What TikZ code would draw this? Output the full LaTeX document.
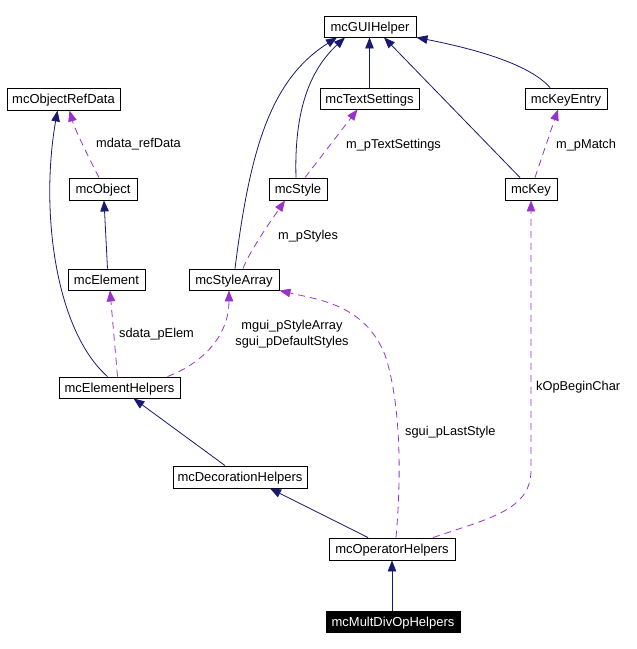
\documentclass[tikz,border=0pt]{standalone}
\usepackage{fontspec}
\setmainfont{Liberation Sans}
\usetikzlibrary{arrows.meta}
\definecolor{navy}{RGB}{25,25,112}
\definecolor{orchid}{RGB}{153,50,204}
\tikzset{
  cls/.style={draw=black, line width=0.9pt, fill=white, inner sep=0pt, text height=10.5pt, text depth=1pt, font=\fontsize{13}{15}\selectfont},
  inh/.style={draw=navy, line width=0.8pt, -{Triangle[length=11pt,width=8.5pt]}, navy},
  use/.style={draw=orchid, line width=0.8pt, dash pattern=on 7pt off 5pt, -{Triangle[length=11pt,width=8.5pt]}, orchid},
  lbl/.style={anchor=west, inner sep=0pt, font=\fontsize{12.8}{16}\selectfont}
}
\begin{document}
\begin{tikzpicture}[x=1pt,y=-1pt]
\useasboundingbox (0,0) rectangle (637,649);
% nodes
\node[cls, minimum width=92pt, minimum height=21pt] (gui) at (370,26.5) {mcGUIHelper};
\node[cls, minimum width=113pt, minimum height=22pt] (ord) at (63.5,99) {mcObjectRefData};
\node[cls, minimum width=99pt, minimum height=21pt] (ts) at (369.5,98.5) {mcTextSettings};
\node[cls, minimum width=82pt, minimum height=21pt] (ke) at (566,98.5) {mcKeyEntry};
\node[cls, minimum width=68pt, minimum height=22pt] (obj) at (103,189) {mcObject};
\node[cls, minimum width=58pt, minimum height=22pt] (sty) at (298,189) {mcStyle};
\node[cls, minimum width=52pt, minimum height=22pt] (key) at (531,189) {mcKey};
\node[cls, minimum width=77pt, minimum height=21pt] (el) at (106.5,279.5) {mcElement};
\node[cls, minimum width=90pt, minimum height=21pt] (sa) at (234,279.5) {mcStyleArray};
\node[cls, minimum width=121pt, minimum height=21pt] (eh) at (119.5,387.5) {mcElementHelpers};
\node[cls, minimum width=134pt, minimum height=22pt] (dh) at (240,477) {mcDecorationHelpers};
\node[cls, minimum width=126pt, minimum height=22pt] (oh) at (392,549) {mcOperatorHelpers};
\node[cls, minimum width=134pt, minimum height=21pt, fill=black, text=white] (md) at (393,621.5) {mcMultDivOpHelpers};
% inheritance edges
\draw[inh] (ts.north) -- (ts.north |- gui.south);
\draw[inh] ([xshift=-2pt]sty.north) .. controls (294,110) and (310,70) .. ([xshift=-25pt]gui.south);
\draw[inh] ([xshift=1pt]sa.north) .. controls (250,150) and (270,80) .. ([xshift=-33pt]gui.south);
\draw[inh] ([xshift=-11pt]key.north) -- ([xshift=14pt]gui.south);
\draw[inh] ([xshift=-16pt]ke.north) .. controls (530,65) and (480,50) .. (gui.south east);
\draw[inh] ([xshift=1pt]el.north) -- ([xshift=1pt]obj.south);
\draw[inh] ([xshift=-12pt]eh.north) .. controls (55,330) and (40,210) .. ([xshift=-6pt]ord.south);
\draw[inh] ([xshift=-15pt]dh.north) -- ([xshift=14pt]eh.south);
\draw[inh] ([xshift=-24pt]oh.north) -- ([xshift=30pt]dh.south);
\draw[inh] ([xshift=-1pt]md.north) -- ([xshift=0pt]oh.south);
% usage edges
\draw[use] ([xshift=-4pt]obj.north) .. controls (90,160) and (75,130) .. ([xshift=6pt]ord.south);
\draw[use] ([xshift=7pt]sty.north) -- ([xshift=-12pt]ts.south);
\draw[use] ([xshift=4pt]key.north) -- ([xshift=-8pt]ke.south);
\draw[use] ([xshift=9pt]sa.north) .. controls (250,250) and (275,215) .. ([xshift=-13pt]sty.south);
\draw[use] ([xshift=-2pt]eh.north) -- ([xshift=3.5pt]el.south);
\draw[use] ([xshift=48pt]eh.north) .. controls (210,360) and (229,330) .. ([xshift=-5pt]sa.south);
\draw[use] ([xshift=4pt]oh.north) .. controls (402,470) and (400,400) .. (385,355) .. controls (365,305) and (320,300) .. (sa.south east);
\draw[use] ([xshift=41pt]oh.north) .. controls (490,518) and (531,510) .. (531,470) -- (key.south);
% labels
\node[lbl] (l1) at (96,144) {mdata\_refData};
\node[lbl] (l2) at (346,145) {m\_pTextSettings};
\node[lbl] (l3) at (556,145) {m\_pMatch};
\node[lbl] (l4) at (278,236) {m\_pStyles};
\node[lbl] (l5) at (119,334) {sdata\_pElem};
\node[inner sep=0pt, align=center, font=\fontsize{12.8}{16}\selectfont] (l6) at (292,334) {mgui\_pStyleArray\\sgui\_pDefaultStyles};
\node[lbl] (l7) at (405,432) {sgui\_pLastStyle};
\node[lbl] (l8) at (536,387) {kOpBeginChar};
\end{tikzpicture}
\end{document}
